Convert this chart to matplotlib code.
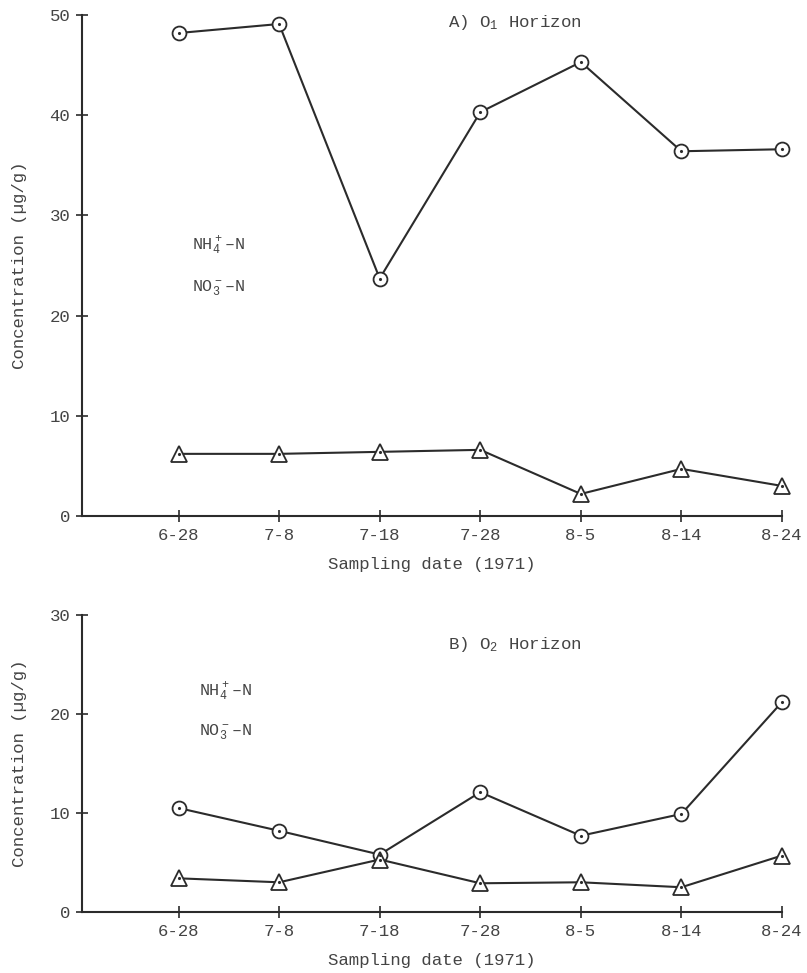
import matplotlib
matplotlib.use("Agg")
import matplotlib.pyplot as plt

plt.rcParams["font.family"] = ["Liberation Mono", "DejaVu Sans Mono"]
plt.rcParams["mathtext.fontset"] = "custom"
plt.rcParams["mathtext.rm"] = "Liberation Mono"
plt.rcParams["mathtext.default"] = "regular"

dates = ["6-28", "7-8", "7-18", "7-28", "8-5", "8-14", "8-24"]

# A) O1 horizon
o1_nh4 = [48.2, 49.1, 23.7, 40.3, 45.3, 36.4, 36.6]
o1_no3 = [6.2, 6.2, 6.4, 6.6, 2.2, 4.7, 3.0]

# B) O2 horizon
o2_nh4 = [10.5, 8.2, 5.8, 12.1, 7.7, 9.9, 21.2]
o2_no3 = [3.4, 3.0, 5.3, 2.9, 3.0, 2.5, 5.7]

ink = "#2b2b2b"
txt = "#444444"
fs = 12.5


def draw_series(ax, x, y, marker, ms):
    ax.plot(x, y, color=ink, lw=1.5, marker=marker, ms=ms,
            mfc="white", mec=ink, mew=1.3, zorder=3, clip_on=False)
    ax.plot(x, y, ls="none", marker=".", ms=2.5, color=ink, zorder=4,
            clip_on=False)


def panel(ax, nh4, no3, ymax, yticks, title, title_pos, leg_pos):
    x = list(range(1, len(dates) + 1))
    draw_series(ax, x, nh4, "o", 10)
    draw_series(ax, x, no3, "^", 11)

    ax.set_xlim(0.04, 7.0)
    ax.set_ylim(0, ymax)
    ax.set_xticks(x)
    ax.set_xticklabels(dates)
    ax.set_yticks(yticks)
    for s in ("top", "right"):
        ax.spines[s].set_visible(False)
    for s in ("left", "bottom"):
        ax.spines[s].set_linewidth(1.5)
        ax.spines[s].set_color(ink)
    ax.tick_params(direction="inout", length=9, width=1.2, color=ink,
                   labelsize=fs, labelcolor=txt, pad=4)
    ax.set_xlabel("Sampling date (1971)", fontsize=fs, color=txt, labelpad=10)
    ax.set_ylabel("Concentration (µg/g)", fontsize=fs, color=txt, labelpad=16)
    ax.text(title_pos[0], title_pos[1], title, transform=ax.transAxes,
            fontsize=fs, color=txt, ha="left", va="center")
    lx, ly1, ly2 = leg_pos
    ax.text(lx, ly1, "NH$_4^+$\u2013N", transform=ax.transAxes,
            fontsize=fs - 0.5, color=txt, va="center")
    ax.text(lx, ly2, "NO$_3^-$\u2013N", transform=ax.transAxes,
            fontsize=fs - 0.5, color=txt, va="center")


fig = plt.figure(figsize=(8.07, 9.73), dpi=100)
ax1 = fig.add_axes([0.1016, 0.4697, 0.8674, 0.5149])
ax2 = fig.add_axes([0.1016, 0.0627, 0.8674, 0.3053])

panel(ax1, o1_nh4, o1_no3, 50, [0, 10, 20, 30, 40, 50],
      "A) O$_1$ Horizon", (0.523, 0.985), (0.157, 0.54, 0.455))
panel(ax2, o2_nh4, o2_no3, 30, [0, 10, 20, 30],
      "B) O$_2$ Horizon", (0.523, 0.9), (0.167, 0.743, 0.606))

fig.savefig("out.png", dpi=100)
